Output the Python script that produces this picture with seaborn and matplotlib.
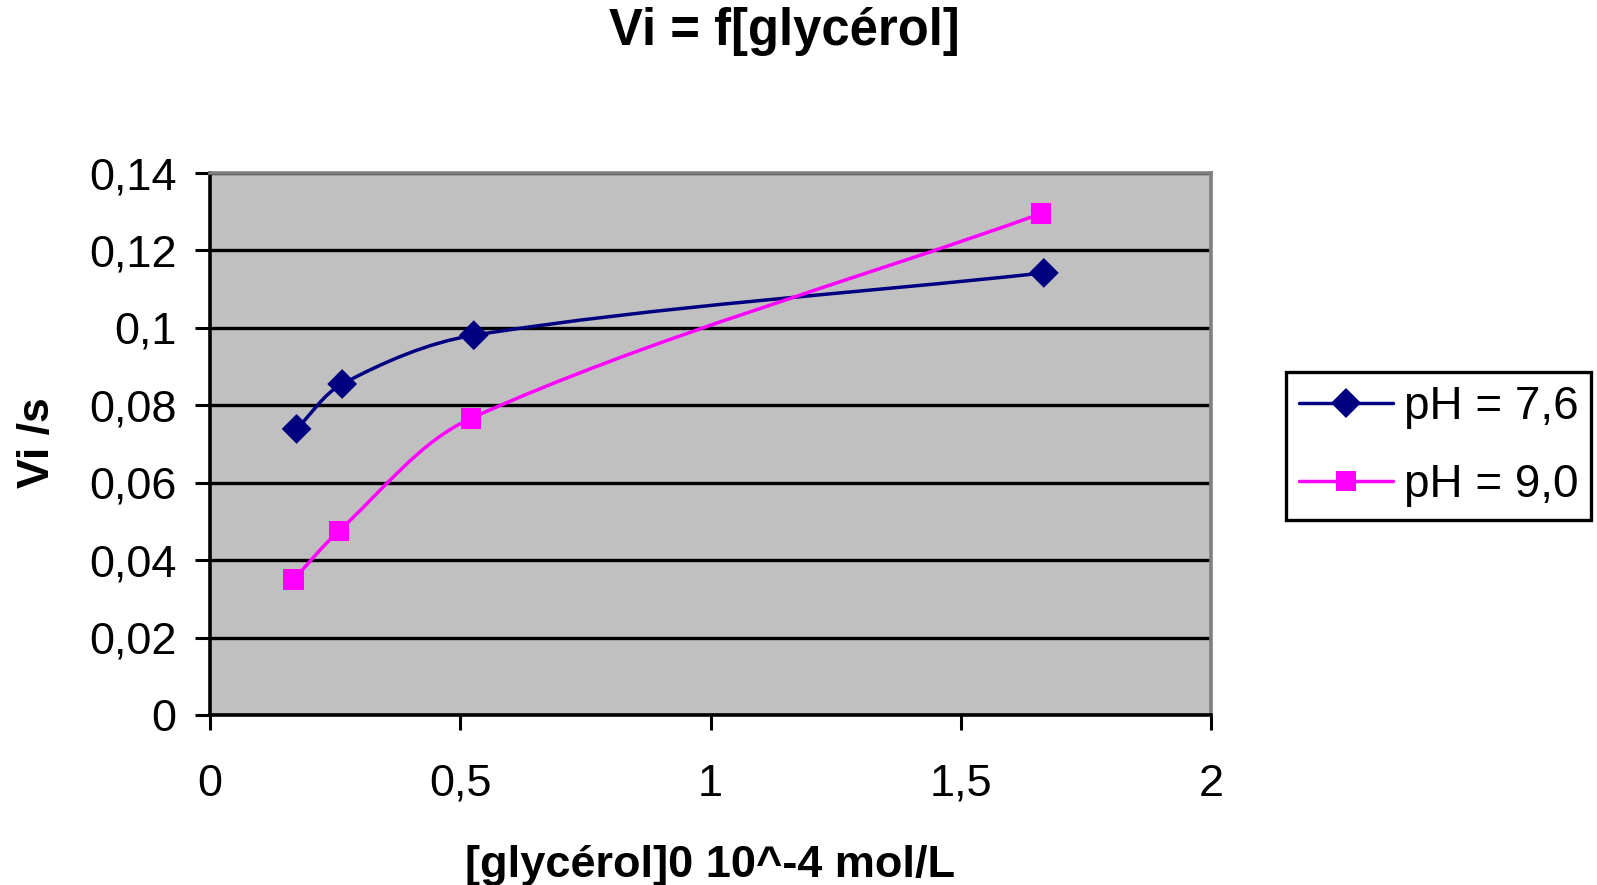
import matplotlib
matplotlib.use("Agg")
import matplotlib.pyplot as plt
import seaborn as sns
import numpy as np
import pandas as pd
from matplotlib.path import Path
from matplotlib.patches import PathPatch
from matplotlib.lines import Line2D
from matplotlib.ticker import FuncFormatter, MultipleLocator

# ---- data ----
x_ph76 = [0.173, 0.264, 0.527, 1.666]
y_ph76 = [0.0739, 0.0855, 0.0981, 0.1142]
x_ph90 = [0.167, 0.258, 0.521, 1.660]
y_ph90 = [0.0350, 0.0476, 0.0766, 0.1295]
series_names = ["pH = 7,6", "pH = 9,0"]
title = "Vi = f[glycérol]"
xlabel = "[glycérol]0 10^-4 mol/L"
ylabel = "Vi /s"

colors = ["#000080", "#FF00FF"]
markers = ["D", "s"]

sns.set_theme(style="white")
plt.rcParams["font.family"] = ["Liberation Sans", "DejaVu Sans"]
plt.rcParams["text.color"] = "black"

fig = plt.figure(figsize=(15.97, 8.85), dpi=100)
ax = fig.add_axes([0.1315, 0.1921, 0.6268, 0.6124])
ax.set_facecolor("#C0C0C0")
ax.set_xlim(0, 2)
ax.set_ylim(0, 0.14)

def smooth_path(xs, ys, ax):
    # Bezier smoothing computed in display space, handles weighted by segment length
    tr = ax.transData
    P = tr.transform(np.column_stack([xs, ys]).astype(float))
    n = len(P)
    verts = [P[0]]
    codes = [Path.MOVETO]
    def handle(i, forward):
        prev = P[i - 1] if i > 0 else P[i]
        nxt = P[i + 1] if i + 1 < n else P[i]
        d = nxt - prev
        la = np.linalg.norm(P[i] - prev)
        lb = np.linalg.norm(nxt - P[i])
        tot = la + lb
        if tot == 0:
            return np.zeros(2)
        w = (lb if forward else la) / tot
        return d * w / 3.0
    for i in range(n - 1):
        c1 = P[i] + handle(i, True)
        c2 = P[i + 1] - handle(i + 1, False)
        verts += [c1, c2, P[i + 1]]
        codes += [Path.CURVE4] * 3
    verts = tr.inverted().transform(np.array(verts))
    return Path(verts, codes)

frames = []
for name, xs, ys in [(series_names[0], x_ph76, y_ph76), (series_names[1], x_ph90, y_ph90)]:
    frames.append(pd.DataFrame({"x": xs, "y": ys, "serie": name}))
df = pd.concat(frames, ignore_index=True)

for xs, ys, c in [(x_ph76, y_ph76, colors[0]), (x_ph90, y_ph90, colors[1])]:
    ax.add_patch(PathPatch(smooth_path(xs, ys, ax), facecolor="none", edgecolor=c,
                           lw=2.5, zorder=3, capstyle="round", joinstyle="round"))

sns.scatterplot(data=df, x="x", y="y", hue="serie", style="serie",
                palette=dict(zip(series_names, colors)),
                markers=dict(zip(series_names, markers)),
                size="serie", sizes={series_names[0]: 230, series_names[1]: 215},
                linewidth=0, ax=ax, legend=False, zorder=4)

ax.set_xlim(0, 2)
ax.set_ylim(0, 0.14)
ax.xaxis.set_major_locator(MultipleLocator(0.5))
ax.yaxis.set_major_locator(MultipleLocator(0.02))
fmt = FuncFormatter(lambda v, p: ("%g" % round(v, 4)).replace(".", ","))
ax.xaxis.set_major_formatter(fmt)
ax.yaxis.set_major_formatter(fmt)
ax.grid(axis="y", color="black", lw=2.4, zorder=1)
ax.grid(axis="x", visible=False)
ax.set_axisbelow(True)

for s in ["left", "bottom"]:
    ax.spines[s].set_color("black")
    ax.spines[s].set_linewidth(2.6)
for s in ["top", "right"]:
    ax.spines[s].set_color("#808080")
    ax.spines[s].set_linewidth(2.6)

ax.tick_params(axis="both", direction="out", length=11, width=2.2, color="black",
               labelsize=32.5, labelcolor="black")
ax.tick_params(axis="y", pad=13, left=True)
ax.tick_params(axis="x", pad=24, bottom=True)
ax.set_xlabel("")
ax.set_ylabel("")

fig.text(0.491, 1 - 31 / 885, title, ha="center", va="center",
         fontsize=36.5, fontweight="bold", color="black")
fig.text(0.4448, 1 - 866 / 885, xlabel, ha="center", va="center",
         fontsize=32.5, fontweight="bold", color="black")
fig.text(38 / 1597, 1 - 443 / 885, ylabel, ha="center", va="center",
         rotation=90, fontsize=32, fontweight="bold", color="black")

handles = [Line2D([], [], color=colors[0], lw=2.5, marker=markers[0], markersize=15,
                  markeredgewidth=0),
           Line2D([], [], color=colors[1], lw=2.5, marker=markers[1], markersize=14.5,
                  markeredgewidth=0)]
leg = fig.legend(handles, series_names, loc="upper left",
                 bbox_to_anchor=(1286 / 1597, 1 - 372 / 885),
                 fontsize=33, frameon=True, fancybox=False, framealpha=1,
                 edgecolor="black", handlelength=2.05, handletextpad=0.24,
                 borderpad=0.28, labelspacing=0.75, borderaxespad=0)
leg.get_frame().set_linewidth(2.4)
for t in leg.get_texts():
    t.set_color("black")

fig.savefig("out.png", dpi=100, facecolor="white")
